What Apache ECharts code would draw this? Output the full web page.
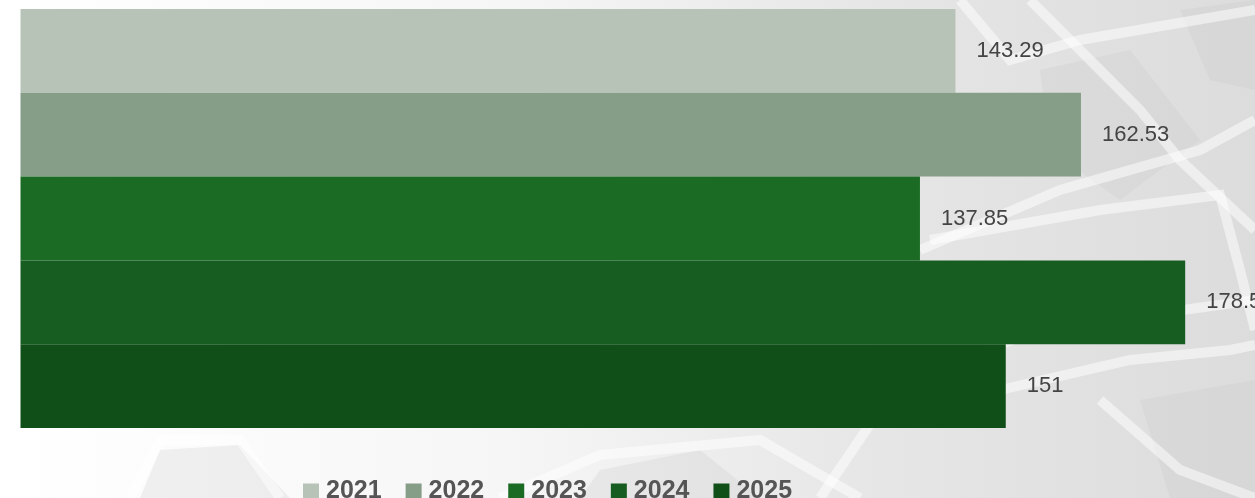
<!DOCTYPE html>
<html>
<head>
<meta charset="utf-8">
<script src="https://cdn.jsdelivr.net/npm/echarts@6/dist/echarts.min.js"></script>
<style>
html,body{margin:0;padding:0;}
#c{width:1255px;height:498px;}
</style>
</head>
<body>
<div id="c"></div>
<script>
const categories = ['Total'];
const seriesNames = ['2021', '2022', '2023', '2024', '2025'];
const seriesValues = [143.29, 162.53, 137.85, 178.5, 151];
const seriesColors = ['#b8c3b8', '#869e88', '#1b6b24', '#175d21', '#114f18'];
const axisMax = 189.2;

const chart = echarts.init(document.getElementById('c'));

// decorative background strokes (imitating the faint geometric pattern)
const deco = [
  [[820,498],[900,380],[1040,330],[1255,300]],
  [[960,0],[1010,60],[1080,40],[1255,10]],
  [[1030,0],[1140,110],[1180,160],[1255,230]],
  [[920,250],[1060,190],[1200,150],[1255,120]],
  [[930,240],[1100,210],[1220,195],[1240,270],[1255,330]],
  [[1000,390],[1130,360],[1230,350],[1255,345]],
  [[1100,400],[1180,470],[1255,498]],
  [[130,498],[160,440],[240,440],[280,498]],
  [[500,498],[600,455],[760,440],[860,498]]
];
const graphics = deco.map(pts => ({
  type: 'polyline', silent: true, z: -10,
  shape: { points: pts },
  style: { stroke: 'rgba(255,255,255,0.5)', lineWidth: 10, fill: null }
}));
const polys = [
  [[1040,70],[1130,50],[1200,140],[1120,200],[1050,150]],
  [[1140,400],[1255,380],[1255,498],[1170,498]],
  [[160,450],[240,445],[290,498],[140,498]],
  [[600,470],[700,450],[760,498],[580,498]],
  [[1180,10],[1255,0],[1255,90],[1210,80]]
];
polys.forEach(p => graphics.push({
  type: 'polygon', silent: true, z: -11,
  shape: { points: p },
  style: { fill: 'rgba(200,200,200,0.25)' }
}));

const series = seriesNames.map((name, i) => ({
  name: name,
  type: 'bar',
  data: [seriesValues[i]],
  barGap: '0%',
  barCategoryGap: '0%',
  itemStyle: { color: seriesColors[i] },
  label: {
    show: true,
    position: 'right',
    distance: 21,
    fontSize: 22,
    fontFamily: 'Liberation Sans, Arial, sans-serif',
    color: '#444444',
    padding: [3, 0, 0, 0]
  }
}));

chart.setOption({
  animation: false,
  backgroundColor: {
    type: 'linear', x: 0, y: 0, x2: 1, y2: 0,
    colorStops: [
      { offset: 0, color: '#ffffff' },
      { offset: 0.4, color: '#f6f6f6' },
      { offset: 0.7, color: '#e6e6e6' },
      { offset: 1, color: '#dcdcdc' }
    ]
  },
  graphic: graphics,
  grid: { left: 20.5, top: 9, right: 0, height: 419, containLabel: false },
  xAxis: {
    type: 'value', min: 0, max: axisMax,
    show: false
  },
  yAxis: {
    type: 'category', data: categories, inverse: true,
    show: false
  },
  legend: {
    data: seriesNames,
    left: 298,
    top: 474,
    itemWidth: 16,
    itemHeight: 16,
    itemGap: 24,
    icon: 'rect',
    textStyle: {
      fontSize: 25,
      fontWeight: 'bold',
      fontFamily: 'Liberation Sans, Arial, sans-serif',
      color: '#555555',
      padding: [0, 0, 0, 2]
    }
  },
  series: series
});
</script>
</body>
</html>
